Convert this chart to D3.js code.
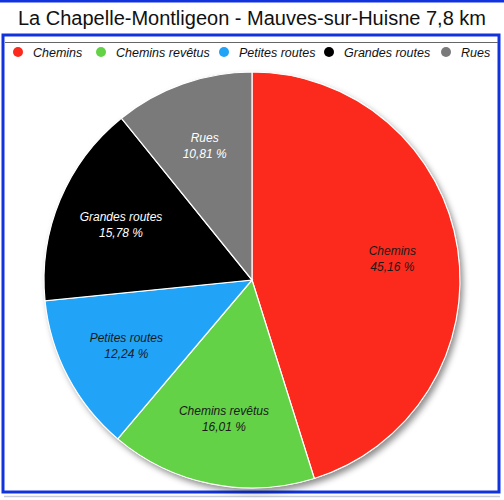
<!DOCTYPE html>
<html><head><meta charset="utf-8">
<script src="https://cdn.jsdelivr.net/npm/d3@7"></script>
<style>html,body{margin:0;padding:0;background:#fff;}svg{display:block;}</style>
</head><body>
<svg id="chart" width="504" height="500"></svg>
<script>
const categories = ["Chemins", "Chemins revêtus", "Petites routes", "Grandes routes", "Rues"];
const values = [45.16, 16.01, 12.24, 15.78, 10.81];
const colors = ["#fc2a1c", "#63d247", "#21a3f8", "#000000", "#7a7a7a"];
const labelColors = ["#1a1a1a", "#1a1a1a", "#1a1a1a", "#ffffff", "#ffffff"];
const title = "La Chapelle-Montligeon - Mauves-sur-Huisne 7,8 km";
const legendX = [18, 101, 224, 329, 446];

const svg = d3.select("#chart");
const font = "'Liberation Sans', Arial, Helvetica, sans-serif";

const defs = svg.append("defs");
const f = defs.append("filter").attr("id","sh").attr("x","-20%").attr("y","-20%").attr("width","140%").attr("height","140%");
f.append("feDropShadow").attr("dx",3).attr("dy",4).attr("stdDeviation",3).attr("flood-color","#000").attr("flood-opacity",0.45);

// top blue line
svg.append("rect").attr("x",0).attr("y",0).attr("width",504).attr("height",2.5).attr("fill","#1133dd");
// title
svg.append("text").attr("x",252).attr("y",25).attr("text-anchor","middle")
  .attr("font-family",font).attr("font-size",20).attr("fill","#111").text(title);
// frame
svg.append("rect").attr("x",3).attr("y",35).attr("width",496).attr("height",457)
  .attr("fill","#fff").attr("stroke","#1133dd").attr("stroke-width",3);
svg.append("line").attr("x1",5).attr("x2",498).attr("y1",42.5).attr("y2",42.5)
  .attr("stroke","#666").attr("stroke-width",1);
svg.append("line").attr("x1",4).attr("x2",500).attr("y1",496.5).attr("y2",496.5)
  .attr("stroke","#c8ccd8").attr("stroke-width",1.5);

// legend
const lg = svg.append("g");
categories.forEach((c,i)=>{
  lg.append("circle").attr("cx",legendX[i]).attr("cy",52).attr("r",5).attr("fill",colors[i]);
  lg.append("text").attr("x",legendX[i]+15).attr("y",56.5).attr("font-family",font)
    .attr("font-style","italic").attr("font-size",12.5).attr("fill","#111").text(c);
});

// pie
const cx = 252, cy = 280, R = 208;
const pie = d3.pie().sort(null).value(d=>d);
const arcs = pie(values);
const arc = d3.arc().innerRadius(0).outerRadius(R);
const labelArc = d3.arc().innerRadius(142).outerRadius(142);
const g = svg.append("g").attr("transform",`translate(${cx},${cy})`);
g.append("circle").attr("r",R).attr("fill","#fff").attr("filter","url(#sh)");
g.selectAll("path.s").data(arcs).enter().append("path").attr("class","s")
  .attr("d",arc).attr("fill",(d,i)=>colors[i]).attr("stroke","#fff").attr("stroke-width",1.2);

const fmt = v => v.toFixed(2).replace(".", ",") + " %";
arcs.forEach((d,i)=>{
  const [x,y] = labelArc.centroid(d);
  const t = g.append("text").attr("text-anchor","middle").attr("font-family",font)
    .attr("font-style","italic").attr("font-size",12).attr("fill",labelColors[i]);
  t.append("tspan").attr("x",x).attr("y",y-4).text(categories[i]);
  t.append("tspan").attr("x",x).attr("y",y+12).text(fmt(values[i]));
});
</script>
</body></html>
